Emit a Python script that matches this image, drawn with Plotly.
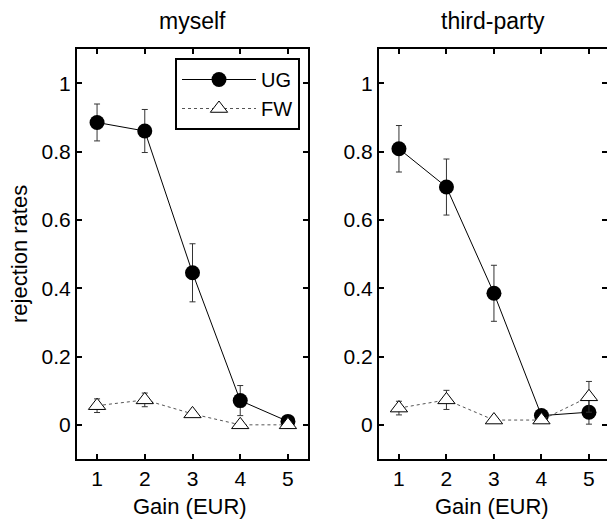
import plotly.graph_objects as go

gain = [1, 2, 3, 4, 5]

myself_ug = [0.885, 0.860, 0.445, 0.071, 0.010]
myself_ug_err = [0.054, 0.063, 0.085, 0.044, 0.005]
myself_fw = [0.056, 0.073, 0.032, 0.0, 0.0]
myself_fw_err = [0.020, 0.020, 0.008, 0.0, 0.0]

third_ug = [0.808, 0.696, 0.385, 0.027, 0.037]
third_ug_err = [0.068, 0.082, 0.082, 0.010, 0.035]
third_fw = [0.049, 0.073, 0.014, 0.014, 0.082]
third_fw_err = [0.020, 0.028, 0.005, 0.005, 0.045]

y_ticks = [0, 0.2, 0.4, 0.6, 0.8, 1]
y_tick_text = ["0", "0.2", "0.4", "0.6", "0.8", "1"]

FONT = "Liberation Sans, Arial, Helvetica, sans-serif"
W, H = 607, 519

def px_x(p):
    return p / W

def px_y(p):
    return 1 - p / H

fig = go.Figure()

def add_panel(xa, ya, ug, ug_err, fw, fw_err, show_legend):
    fig.add_trace(go.Scatter(
        x=gain, y=ug, xaxis=xa, yaxis=ya, name="UG", mode="lines+markers",
        line=dict(color="black", width=1),
        marker=dict(symbol="circle", size=15, color="black"),
        error_y=dict(type="data", array=ug_err, visible=True, color="#333333",
                     thickness=1, width=3),
        showlegend=show_legend))
    fig.add_trace(go.Scatter(
        x=gain, y=fw, xaxis=xa, yaxis=ya, name="FW", mode="lines+markers",
        line=dict(color="#555555", width=1, dash="dot"),
        marker=dict(symbol="triangle-up", size=15, color="white",
                    line=dict(color="black", width=1)),
        error_y=dict(type="data", array=fw_err, visible=True, color="#333333",
                     thickness=1, width=3),
        showlegend=show_legend))

add_panel("x", "y", myself_ug, myself_ug_err, myself_fw, myself_fw_err, True)
add_panel("x2", "y2", third_ug, third_ug_err, third_fw, third_fw_err, False)

ydom = [px_y(459), px_y(49)]
tickfont = dict(family=FONT, size=21, color="black")

common_x = dict(tickvals=gain, ticks="inside", ticklen=5, tickwidth=1.5,
                tickcolor="black", showline=True, linecolor="black", linewidth=2,
                showgrid=False, zeroline=False, tickfont=tickfont)
common_y = dict(range=[-0.1, 1.1], tickvals=y_ticks, ticktext=y_tick_text,
                ticks="inside", ticklen=5, tickwidth=1.5, tickcolor="black",
                showline=True, linecolor="black", linewidth=2, showgrid=False,
                zeroline=False, tickfont=tickfont, domain=ydom)

fig.update_layout(
    width=W, height=H,
    margin=dict(l=0, r=0, t=0, b=0),
    paper_bgcolor="white", plot_bgcolor="white",
    font=dict(family=FONT, color="black"),
    xaxis=dict(common_x, domain=[px_x(77), px_x(308)], range=[0.58, 5.42],
               anchor="y", mirror="ticks"),
    yaxis=dict(common_y, anchor="x", mirror="ticks"),
    xaxis2=dict(common_x, domain=[px_x(379), 1.0], range=[0.58, 5.38],
                anchor="y2", mirror="ticks"),
    yaxis2=dict(common_y, anchor="x2", mirror=False),
    yaxis3=dict(range=[-0.1, 1.1], tickvals=y_ticks, ticks="inside", ticklen=5,
                tickwidth=1.5, tickcolor="black", showline=False,
                showticklabels=False, showgrid=False, zeroline=False,
                overlaying="y2", side="right", anchor="x2", domain=ydom),
    legend=dict(x=px_x(175), y=px_y(58), xanchor="left", yanchor="top",
                bgcolor="white", bordercolor="black", borderwidth=2,
                font=dict(family=FONT, size=20, color="black"),
                itemwidth=74, tracegroupgap=0),
    showlegend=True,
)

# invisible trace to activate yaxis3
fig.add_trace(go.Scatter(x=[None], y=[None], xaxis="x2", yaxis="y3",
                         showlegend=False, hoverinfo="skip"))

title_font = dict(family=FONT, size=23, color="black")
label_font = dict(family=FONT, size=22, color="black")

def label(text, cx, cy, font, angle=0):
    fig.add_annotation(text=text, x=px_x(cx), y=px_y(cy), xref="paper",
                       yref="paper", xanchor="center", yanchor="middle",
                       showarrow=False, textangle=angle, font=font)

label("myself", 192.5, 21, title_font)
label("third-party", 493, 21, title_font)
label("Gain (EUR)", 190, 506, label_font)
label("Gain (EUR)", 492, 506, label_font)
label("rejection rates", 19, 254, label_font, -90)

fig.write_html("out.html", config={"displayModeBar": False},
               post_script="document.body.style.margin='0';")
